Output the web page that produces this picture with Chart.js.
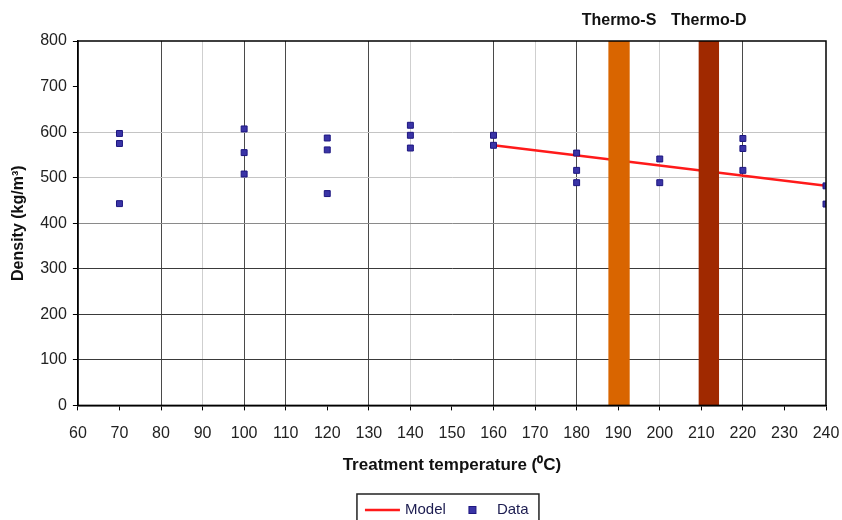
<!DOCTYPE html>
<html>
<head>
<meta charset="utf-8">
<script src="https://cdn.jsdelivr.net/npm/chart.js@4"></script>
<style>
  html, body { margin: 0; padding: 0; background: #fff; overflow: hidden; }
  #wrap { width: 842px; height: 520px; }
</style>
</head>
<body>
<div id="wrap"><canvas id="densityChart"></canvas></div>
<script>
const dataX = [70, 70, 70, 100, 100, 100, 120, 120, 120, 140, 140, 140, 160, 160, 180, 180, 180, 200, 200, 220, 220, 220, 240, 240];
const dataY = [597, 575, 443, 607, 555, 508, 587, 561, 465, 615, 593, 565, 593, 571, 554, 516, 489, 541, 489, 586, 564, 516, 482, 442];

const modelX = [160, 240];
const modelY = [571, 482];

// treatment bands (edges in degC), full height of the axis
const thermoS = [187.6, 192.8];
const thermoD = [209.3, 214.3];
const bandTop = 800;

const xTicks = { min: 60, max: 240, step: 10 };
const yTicks = { min: 0, max: 800, step: 100 };

// grid shade per tick value, like the scanned figure
const darkX = [80, 100, 110, 130, 160, 180, 220];
const lightX = [90, 140, 170, 190, 200, 210];
const darkY = [100, 200, 300];
const midY = [400];
const lightY = [500, 600];

function gridX(ctx) {
  const v = ctx.tick ? ctx.tick.value : null;
  if (darkX.includes(v)) return '#4a4a4a';
  if (lightX.includes(v)) return '#cfcfcf';
  return 'rgba(0,0,0,0)';
}

function gridY(ctx) {
  const v = ctx.tick ? ctx.tick.value : null;
  if (darkY.includes(v)) return '#3a3a3a';
  if (midY.includes(v)) return '#8a8a8a';
  if (lightY.includes(v)) return '#c4c4c4';
  return 'rgba(0,0,0,0)';
}

const font = "'Liberation Sans', Arial, sans-serif";

const frameAndLabels = {
  id: 'frameAndLabels',
  afterDatasetsDraw(chart) {
    const { ctx, chartArea: a, scales } = chart;
    ctx.save();
    ctx.strokeStyle = '#000';
    ctx.lineWidth = 1.5;
    ctx.strokeRect(a.left, a.top, a.right - a.left, a.bottom - a.top);

    ctx.fillStyle = '#111';
    ctx.font = 'bold 16px ' + font;
    ctx.textAlign = 'center';
    ctx.textBaseline = 'middle';
    ctx.fillText('Thermo-S', scales.x.getPixelForValue((thermoS[0] + thermoS[1]) / 2), a.top - 20);
    ctx.fillText('Thermo-D', scales.x.getPixelForValue((thermoD[0] + thermoD[1]) / 2), a.top - 20);
    ctx.restore();
  },
  afterDraw(chart) {
    const { ctx, chartArea: a } = chart;
    const cx = (a.left + a.right) / 2 - 4;
    const left = cx - 91;
    const top = chart.height - 26;
    ctx.save();
    ctx.strokeStyle = '#222';
    ctx.lineWidth = 1.5;
    ctx.strokeRect(left, top, 182, 40);

    const midY = top + 16;
    ctx.strokeStyle = '#ff1a1a';
    ctx.lineWidth = 2.5;
    ctx.beginPath();
    ctx.moveTo(left + 8, midY);
    ctx.lineTo(left + 43, midY);
    ctx.stroke();

    ctx.fillStyle = '#3a34a6';
    ctx.strokeStyle = '#1d1680';
    ctx.lineWidth = 1;
    ctx.fillRect(left + 112, midY - 3.5, 7, 7);
    ctx.strokeRect(left + 112, midY - 3.5, 7, 7);

    ctx.fillStyle = '#1c1c50';
    ctx.font = '15px ' + font;
    ctx.textAlign = 'left';
    ctx.textBaseline = 'middle';
    ctx.fillText('Model', left + 48, midY);
    ctx.fillText('Data', left + 140, midY);
    ctx.restore();
  }
};

new Chart(document.getElementById('densityChart'), {
  type: 'scatter',
  data: {
    datasets: [
      {
        label: 'Data',
        data: dataX.map((x, i) => ({ x, y: dataY[i] })),
        pointStyle: 'rect',
        pointRadius: 4.2,
        backgroundColor: '#3a34a6',
        borderColor: '#1d1680',
        borderWidth: 1,
        order: 0
      },
      {
        label: 'Thermo-S',
        type: 'line',
        data: thermoS.map(x => ({ x, y: bandTop })),
        borderWidth: 0,
        pointRadius: 0,
        backgroundColor: '#d96500',
        fill: 'origin',
        order: 1
      },
      {
        label: 'Thermo-D',
        type: 'line',
        data: thermoD.map(x => ({ x, y: bandTop })),
        borderWidth: 0,
        pointRadius: 0,
        backgroundColor: '#a02900',
        fill: 'origin',
        order: 1
      },
      {
        label: 'Model',
        type: 'line',
        data: modelX.map((x, i) => ({ x, y: modelY[i] })),
        borderColor: '#ff1a1a',
        borderWidth: 2.5,
        pointRadius: 0,
        fill: false,
        order: 2
      }
    ]
  },
  options: {
    responsive: true,
    maintainAspectRatio: false,
    animation: false,
    layout: { padding: { top: 41, right: 16, left: 9, bottom: 44 } },
    plugins: {
      legend: { display: false },
      tooltip: { enabled: false }
    },
    scales: {
      x: {
        type: 'linear',
        min: xTicks.min,
        max: xTicks.max,
        afterFit(scale) {
          scale.paddingRight = 0;
        },
        border: { display: true, color: '#000', width: 1.5 },
        grid: { color: gridX, lineWidth: 1, tickLength: 5, tickColor: '#000', drawTicks: true },
        ticks: {
          stepSize: xTicks.step,
          color: '#222',
          padding: 14,
          font: { family: font, size: 16 }
        },
        title: {
          display: true,
          text: 'Treatment temperature (\u2070C)',
          color: '#111',
          padding: { top: -2, bottom: 0 },
          font: { family: font, size: 17, weight: 'bold' }
        }
      },
      y: {
        min: yTicks.min,
        max: yTicks.max,
        border: { display: true, color: '#000', width: 1.5 },
        grid: { color: gridY, lineWidth: 1, tickLength: 5, tickColor: '#000', drawTicks: true },
        ticks: {
          stepSize: yTicks.step,
          color: '#222',
          padding: 6,
          font: { family: font, size: 16 }
        },
        title: {
          display: true,
          text: 'Density (kg/m\u00b3)',
          color: '#111',
          padding: { top: 0, bottom: 6 },
          font: { family: font, size: 16, weight: 'bold' }
        }
      }
    }
  },
  plugins: [frameAndLabels]
});
</script>
</body>
</html>
